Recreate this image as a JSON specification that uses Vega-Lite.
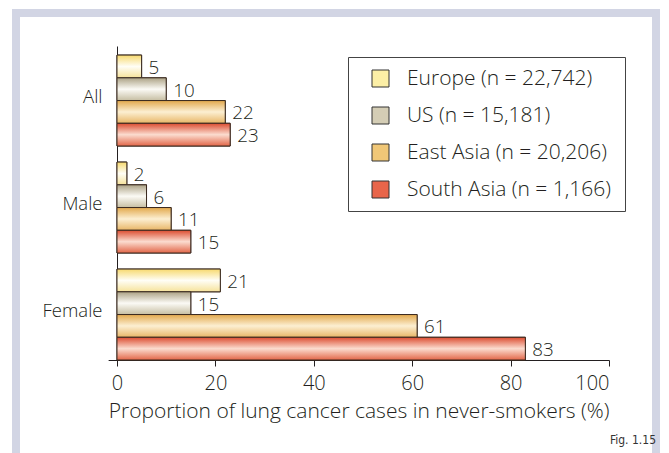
{
  "$schema": "https://vega.github.io/schema/vega-lite/v6.json",
  "width": 640,
  "height": 440,
  "autosize": "none",
  "padding": {"left": 16, "top": 13, "right": 13, "bottom": 0},
  "background": "white",
  "title": {"text": "Fig. 1.15", "orient": "bottom", "anchor": "end", "offset": -18, "fontSize": 12, "font": "Liberation Sans Narrow, DejaVu Sans Condensed, sans-serif", "fontWeight": "normal", "color": "#333333", "frame": "group"},
  "config": {
    "view": {"fill": "white", "stroke": "#d2d5e4", "strokeWidth": 8, "strokeDash": [1080, 640, 440]},
    "font": "Open Sans",
    "axis": {"labelFont": "Open Sans", "titleFont": "Open Sans", "labelColor": "#231f20", "titleColor": "#231f20", "domainColor": "#231f20", "tickColor": "#231f20", "grid": false}
  },
  "data": {"values": [
    {"sex": "All", "series": "Europe (n = 22,742)", "value": 5},
    {"sex": "All", "series": "US (n = 15,181)", "value": 10},
    {"sex": "All", "series": "East Asia (n = 20,206)", "value": 22},
    {"sex": "All", "series": "South Asia (n = 1,166)", "value": 23},
    {"sex": "Male", "series": "Europe (n = 22,742)", "value": 2},
    {"sex": "Male", "series": "US (n = 15,181)", "value": 6},
    {"sex": "Male", "series": "East Asia (n = 20,206)", "value": 11},
    {"sex": "Male", "series": "South Asia (n = 1,166)", "value": 15},
    {"sex": "Female", "series": "Europe (n = 22,742)", "value": 21},
    {"sex": "Female", "series": "US (n = 15,181)", "value": 15},
    {"sex": "Female", "series": "East Asia (n = 20,206)", "value": 61},
    {"sex": "Female", "series": "South Asia (n = 1,166)", "value": 83}
  ]},
  "encoding": {
    "x": {"field": "value", "type": "quantitative",
      "scale": {"domain": [-1.8, 100], "range": [92.14, 593], "nice": false, "zero": false},
      "axis": {"orient": "bottom", "offset": -93, "values": [0, 20, 40, 60, 80, 100], "tickSize": 6, "labelFontSize": 20, "labelFontWeight": 300, "labelPadding": 7, "title": "Proportion of lung cancer cases in never-smokers (%)", "titleFontSize": 21, "titleFontWeight": 300, "titlePadding": 7}},
    "y": {"field": "sex", "type": "nominal",
      "scale": {"domain": ["All", "Male", "Female"], "range": [33, 347], "paddingInner": 0.15, "paddingOuter": 0.0425, "align": 1},
      "axis": {"orient": "left", "offset": -101, "ticks": false, "labelPadding": 15, "labelFontSize": 18.5, "labelFontWeight": 300, "labelOffset": -4, "title": null}},
    "yOffset": {"field": "series", "type": "nominal",
      "scale": {"domain": ["Europe (n = 22,742)", "US (n = 15,181)", "East Asia (n = 20,206)", "South Asia (n = 1,166)"], "paddingInner": 0, "paddingOuter": 0}}
  },
  "layer": [
    {
      "mark": {"type": "bar", "stroke": "#3a2a20", "strokeWidth": 1},
      "encoding": {
        "x2": {"datum": 0},
        "color": {"field": "series", "type": "nominal",
          "scale": {"domain": ["Europe (n = 22,742)", "US (n = 15,181)", "East Asia (n = 20,206)", "South Asia (n = 1,166)"], "range": ["#fcefa6", "#d4cdb5", "#f0c777", "#e8654a"]},
          "legend": {"orient": "none", "legendX": 332, "legendY": 44, "title": "\u00a0", "titleOrient": "right", "titleFontSize": 30, "titlePadding": 3, "strokeColor": "#444444", "fillColor": "white", "padding": 11, "symbolOffset": 11, "symbolType": "square", "symbolSize": 289, "symbolStrokeColor": "#333333", "symbolStrokeWidth": 1, "symbolOpacity": 1, "labelFont": "Open Sans", "labelFontSize": 21, "labelFontWeight": 300, "labelColor": "#231f20", "labelOffset": 16, "rowPadding": 15, "labelLimit": 400}}
      }
    },
    {
      "mark": {"type": "bar", "stroke": "#3a2a20", "strokeWidth": 1},
      "encoding": {
        "x2": {"datum": 0},
        "fill": {
          "condition": [
            {"test": "datum.series === 'Europe (n = 22,742)'", "value": {"gradient": "linear", "x1": 0, "y1": 0, "x2": 0, "y2": 1, "stops": [{"offset": 0, "color": "#f7d96e"}, {"offset": 0.5, "color": "#fffef6"}, {"offset": 1, "color": "#f6e29a"}]}},
            {"test": "datum.series === 'US (n = 15,181)'", "value": {"gradient": "linear", "x1": 0, "y1": 0, "x2": 0, "y2": 1, "stops": [{"offset": 0, "color": "#aca285"}, {"offset": 0.5, "color": "#fbfaf5"}, {"offset": 1, "color": "#c6bea2"}]}},
            {"test": "datum.series === 'East Asia (n = 20,206)'", "value": {"gradient": "linear", "x1": 0, "y1": 0, "x2": 0, "y2": 1, "stops": [{"offset": 0, "color": "#e2a84c"}, {"offset": 0.5, "color": "#fcefd2"}, {"offset": 1, "color": "#e8b666"}]}}
          ],
          "value": {"gradient": "linear", "x1": 0, "y1": 0, "x2": 0, "y2": 1, "stops": [{"offset": 0, "color": "#dc4c30"}, {"offset": 0.5, "color": "#fbdccf"}, {"offset": 1, "color": "#e26648"}]}
        }
      }
    },
    {
      "mark": {"type": "text", "align": "left", "baseline": "middle", "dx": 7, "dy": 1.5, "fontSize": 18.8, "fontWeight": 300, "font": "Open Sans", "color": "#231f20"},
      "encoding": {"text": {"field": "value", "type": "quantitative"}}
    }
  ]
}
